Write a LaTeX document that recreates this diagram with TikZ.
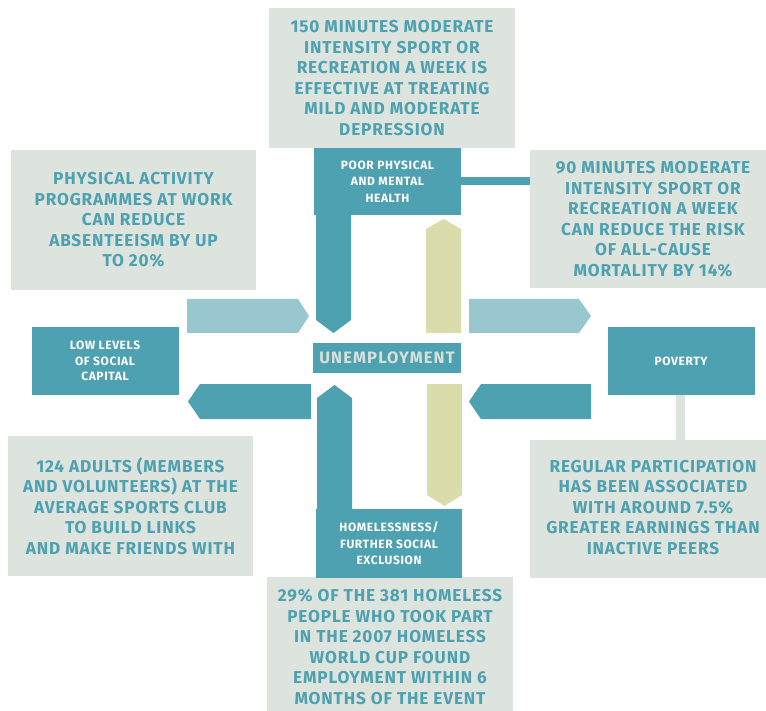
\documentclass[tikz,border=0pt]{standalone}
\usepackage{fontspec}
\setmainfont{Fira Sans}[LetterSpace=5]
\definecolor{tealA}{RGB}{78,161,176}
\definecolor{ltealA}{RGB}{152,199,207}
\definecolor{grayA}{RGB}{221,227,221}
\definecolor{oliveA}{RGB}{218,221,171}
\definecolor{utextA}{RGB}{217,224,218}
\newcommand\bigtxt{\fontsize{17.2}{20.5}\selectfont\bfseries}
\newcommand\smalltxt{\fontsize{12}{16.5}\selectfont\bfseries}
\begin{document}
\begin{tikzpicture}[x=1pt,y=-1pt,
  factbox/.style={fill=grayA, text=tealA, font=\bigtxt, align=center, inner sep=0pt, minimum width=246pt, minimum height=140pt},
  issuebox/.style={fill=tealA, text=white, font=\smalltxt, align=center, inner sep=0pt, minimum width=147pt, minimum height=68pt},
  darkarrow/.style={fill=tealA},
  lightarrow/.style={fill=ltealA},
  olivearrow/.style={fill=oliveA},
  link/.style={fill=tealA},
  graylink/.style={fill=grayA}]
\useasboundingbox (0,0) rectangle (766,711);
\fill[white] (0,0) rectangle (766,711);

% fact boxes
\node[factbox] (top) at (392,78) {150 MINUTES MODERATE\\INTENSITY SPORT OR\\RECREATION A WEEK IS\\EFFECTIVE AT TREATING\\MILD AND MODERATE\\DEPRESSION};
\node[factbox, minimum width=245pt] (work) at (133.5,220) {PHYSICAL ACTIVITY\\PROGRAMMES AT WORK\\CAN REDUCE\\ABSENTEEISM BY UP\\TO 20\%};
\node[factbox, minimum height=138pt] (ninety) at (653,219) {90 MINUTES MODERATE\\INTENSITY SPORT OR\\RECREATION A WEEK\\CAN REDUCE THE RISK\\OF ALL-CAUSE\\MORTALITY BY 14\%};
\node[factbox, minimum height=138pt] (regular) at (653,509) {\raisebox{3pt}{\begin{tabular}{@{}c@{}}REGULAR PARTICIPATION\\HAS BEEN ASSOCIATED\\WITH AROUND 7.5\%\\GREATER EARNINGS THAN\\INACTIVE PEERS\end{tabular}}};
\node[factbox, minimum width=245pt] (adults) at (130.5,506) {124 ADULTS (MEMBERS\\AND VOLUNTEERS) AT THE\\AVERAGE SPORTS CLUB\\TO BUILD LINKS\\AND MAKE FRIENDS WITH};
\node[factbox] (homeless) at (390,647) {29\% OF THE 381 HOMELESS\\PEOPLE WHO TOOK PART\\IN THE 2007 HOMELESS\\WORLD CUP FOUND\\EMPLOYMENT WITHIN 6\\MONTHS OF THE EVENT};

% connectors from issue boxes to fact boxes
\fill[link] (461,177) rectangle (530,185);
\fill[graylink] (676,395) rectangle (685,440);

% arrows
\fill[darkarrow] (316,200) -- (351,200) -- (351,320) -- (333.5,333) -- (316,320) -- cycle;
\fill[olivearrow] (426,333) -- (426,229) -- (443.5,219) -- (461,229) -- (461,333) -- cycle;
\fill[lightarrow] (187,299) -- (298,299) -- (309,316) -- (298,333) -- (187,333) -- cycle;
\fill[lightarrow] (469,299) -- (579,299) -- (591,316) -- (579,333) -- (469,333) -- cycle;
\fill[darkarrow] (311,384) -- (200,384) -- (188,401.5) -- (200,419) -- (311,419) -- cycle;
\fill[darkarrow] (591,384) -- (481,384) -- (469,401.5) -- (481,419) -- (591,419) -- cycle;
\fill[olivearrow] (427,384) -- (462,384) -- (462,495) -- (444.5,506) -- (427,495) -- cycle;
\fill[darkarrow] (317,520) -- (317,398) -- (334.5,385) -- (352,398) -- (352,520) -- cycle;

% issue boxes
\node[issuebox, minimum height=67pt] (poor) at (387.5,181.5) {POOR PHYSICAL\\AND MENTAL\\HEALTH};
\node[issuebox, minimum width=148pt, minimum height=30pt, text=utextA, font=\fontsize{16.5}{18}\selectfont\bfseries\addfontfeatures{LetterSpace=7}] (unemp) at (387,358) {UNEMPLOYMENT};
\node[issuebox, font=\fontsize{12}{15.5}\selectfont\bfseries] (low) at (105,361) {LOW LEVELS\\OF SOCIAL\\CAPITAL};
\node[issuebox] (poverty) at (681,361) {POVERTY};
\node[issuebox, minimum width=146pt, minimum height=69pt] (homeless2) at (389,543.5) {HOMELESSNESS/\\FURTHER SOCIAL\\EXCLUSION};
\end{tikzpicture}
\end{document}
